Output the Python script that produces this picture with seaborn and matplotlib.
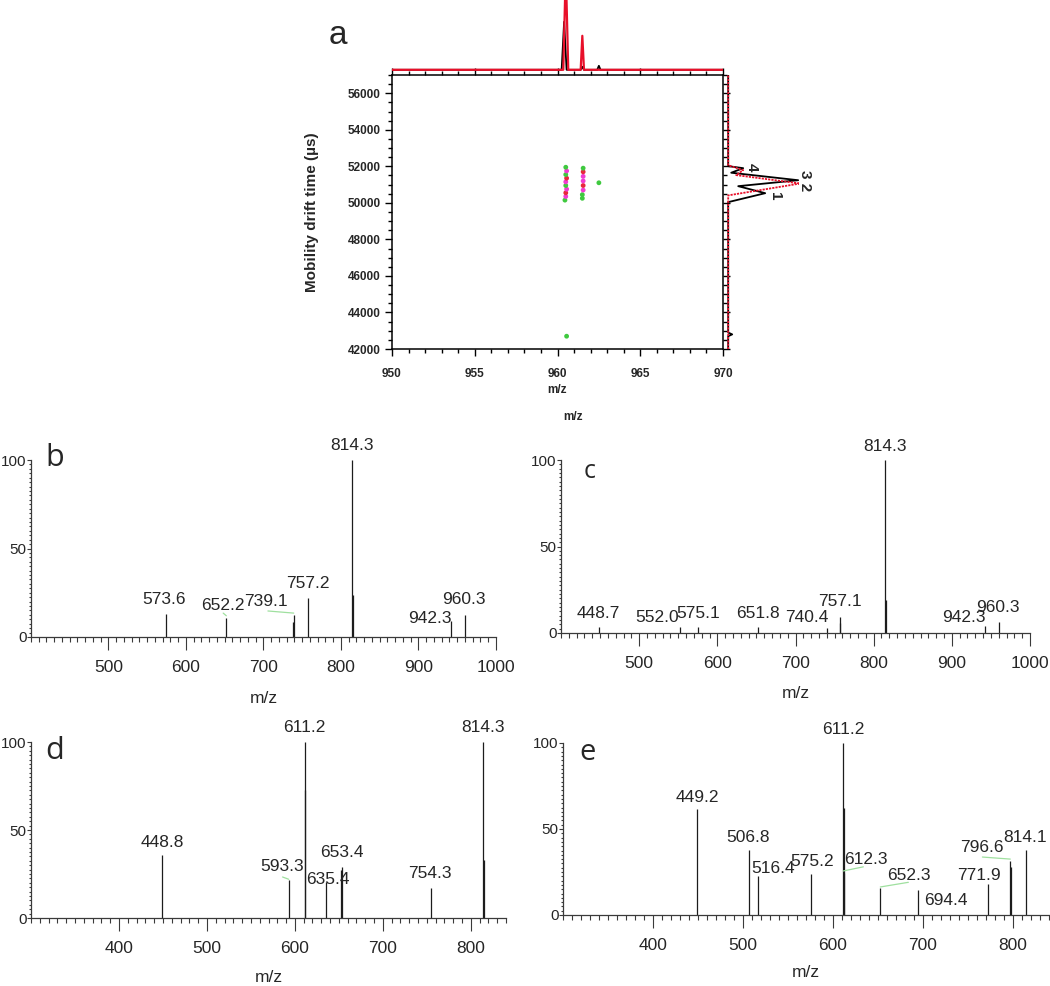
import matplotlib
matplotlib.use("Agg")
import matplotlib.pyplot as plt
from matplotlib.ticker import MultipleLocator, FixedLocator
from matplotlib import font_manager as fm
import pandas as pd
import seaborn as sns

# ---------------- data ----------------
# panel a : 2-D mobility map spots (m/z, drift time in µs, colour class)
spot_mz = [960.45, 960.5, 960.5, 960.55, 960.5, 960.5, 960.55, 960.5, 960.55, 960.5,
           961.5, 961.5, 961.55, 961.55, 961.55, 961.55, 961.55, 961.55,
           962.5, 960.55]
spot_dt = [50150, 50350, 50550, 50750, 50950, 51150, 51350, 51550, 51750, 51950,
           50250, 50450, 50700, 50950, 51200, 51450, 51700, 51900,
           51100, 42700]
spot_cls = ['g', 'm', 'r', 'm', 'g', 'm', 'r', 'g', 'm', 'g',
            'g', 'g', 'm', 'r', 'm', 'm', 'r', 'g',
            'g', 'g']

# top marginal (m/z projection)
top_mz_black = [950, 960.25, 960.4, 960.55, 961.4, 961.5, 961.6, 962.4, 962.5, 962.6, 970]
top_int_black = [0, 0, 48, 0, 0, 3, 0, 0, 4, 0, 0]
top_mz_red = [950, 960.35, 960.5, 960.65, 961.4, 961.5, 961.6, 970]
top_int_red = [0, 0, 100, 0, 0, 34, 0, 0]

# right marginal (drift-time projection)
right_dt_black = [42000, 42700, 42800, 42900, 50040, 50530, 50914, 51240, 51650, 51900, 52010, 57000]
right_int_black = [0, 0, 4, 0, 0, 37, 10, 70, 3, 15, 0, 0]
right_dt_red = [42000, 50410, 51060, 51520, 51790, 52060, 57000]
right_int_red = [0, 0, 72, 8, 15, 0, 0]
conf_labels = ['4', '3 2', '1']

# panel b
b_mz = [573.6, 652.2, 738.3, 739.1, 757.2, 814.3, 815.2, 942.3, 960.3]
b_int = [13, 10.5, 8.5, 12.4, 22.2, 100, 24, 9, 12.4]
b_labels = ['573.6', '652.2', '739.1', '757.2', '814.3', '942.3', '960.3']

# panel c
c_mz = [448.7, 552.0, 575.1, 651.8, 740.4, 756.3, 757.1, 814.3, 815.2, 942.3, 960.3]
c_int = [3.3, 3.3, 3.3, 3.7, 2.8, 6, 9.4, 100, 19, 4, 6.5]
c_labels = ['448.7', '552.0', '575.1', '651.8', '740.4', '757.1', '814.3', '942.3', '960.3']

# panel d
d_mz = [448.8, 593.3, 611.2, 612.0, 635.4, 652.6, 653.4, 754.3, 814.3, 815.1]
d_int = [35.8, 21.6, 100, 73, 20.5, 27, 29, 17, 100, 33]
d_labels = ['448.8', '593.3', '611.2', '635.4', '653.4', '754.3', '814.3']

# panel e
e_mz = [449.2, 506.8, 516.4, 575.2, 611.2, 611.8, 612.3, 652.3, 694.4, 771.9, 796.6, 797.4, 814.1]
e_int = [61.6, 37.8, 22.7, 23.8, 100, 62, 24.4, 15.7, 14.5, 18, 31.4, 28, 37.8]
e_labels = ['449.2', '506.8', '516.4', '575.2', '611.2', '612.3', '652.3', '694.4',
            '771.9', '796.6', '814.1']

# ---------------- layout (label placement) ----------------
conf_lab_x = [24, 77, 47]
conf_lab_y = [51950, 51240, 50370]

b_lab_x = [572, 647, 703, 757, 813.6, 915, 959]
b_lab_y = [21, 18, 20, 30.5, 108, 10.7, 21]
b_wide = [0, 0, 0, 0, 0, 1, 0]
b_lead = [(705.7, 14.7, 739, 13.5), (648, 13.5, 652, 12)]

c_lab_x = [448, 523, 575, 652, 714, 757, 814, 915, 959]
c_lab_y = [11, 8.7, 11, 11.5, 8.7, 18, 108, 8.7, 14.5]
c_wide = [0, 1, 0, 0, 1, 0, 0, 1, 0]
c_lead = []

d_lab_x = [449, 585, 611, 637, 653, 754, 814]
d_lab_y = [43, 29, 108, 22, 37, 25, 108.5]
d_wide = [0, 0, 0, 0, 0, 0, 0]
d_lead = [(586, 23.3, 593, 22)]

e_lab_x = [449, 506, 533, 577, 611.4, 636, 684, 725, 762, 765, 813.7]
e_lab_y = [68.6, 45, 27, 31, 108, 32.5, 23, 8.7, 23, 39.5, 45]
e_wide = [0, 0, 1, 0, 0, 0, 0, 1, 1, 0, 0]
e_lead = [(611.4, 25.6, 633.7, 28), (652.6, 16.3, 683.7, 19), (766, 33.7, 797, 32.5)]

# ---------------- style ----------------
sns.set_theme(style="ticks")
plt.rcParams['font.family'] = ['Liberation Sans', 'DejaVu Sans']
names = {f.name for f in fm.fontManager.ttflist}
NARROW = 'Liberation Sans Narrow' if 'Liberation Sans Narrow' in names else 'Liberation Sans'
WIDE = 'Liberation Sans'
LETTER = 'Open Sans' if 'Open Sans' in names else 'DejaVu Sans'

W, H = 1050, 986
fig = plt.figure(figsize=(W / 100, H / 100), dpi=100)


def fx(px):
    return px / W


def fy(py):
    return 1 - py / H


# ---------------- panel a ----------------
ax = fig.add_axes([fx(392), fy(349), fx(723 - 392), (349 - 75) / H])
df_spots = pd.DataFrame({'mz': spot_mz, 'dt': spot_dt, 'cls': spot_cls})
sns.scatterplot(data=df_spots, x='mz', y='dt', hue='cls',
                palette={'g': '#3fc93f', 'm': '#f03cd2', 'r': '#e8283c'},
                s=12, linewidth=0, legend=False, ax=ax)
ax.set_xlim(950, 970)
ax.set_ylim(42000, 57000)
ax.xaxis.set_major_locator(MultipleLocator(5))
ax.xaxis.set_minor_locator(MultipleLocator(1))
ax.yaxis.set_major_locator(MultipleLocator(2000))
ax.yaxis.set_minor_locator(MultipleLocator(500))
ax.tick_params(which='both', direction='out', top=True, right=True,
               labeltop=False, labelright=False, color='black', width=1.0)
ax.tick_params(which='major', length=5, labelsize=8.5, pad=3)
ax.tick_params(axis='x', which='major', pad=9)
ax.tick_params(which='minor', length=3)
for lab in ax.get_xticklabels() + ax.get_yticklabels():
    lab.set_fontweight('bold')
for sp in ax.spines.values():
    sp.set_linewidth(1.1)
    sp.set_color('black')
ax.set_xlabel('')
ax.set_ylabel('')
fig.text(fx(312), fy(212), 'Mobility drift time (µs)', rotation=90, ha='center',
         va='center', fontsize=11, fontweight='bold')
fig.text(fx(557), fy(390), 'm/z', ha='center', va='center', fontsize=8.5, fontweight='bold')
fig.text(fx(573), fy(417), 'm/z', ha='center', va='center', fontsize=8.5, fontweight='bold')
fig.text(fx(338), fy(35), 'a', ha='center', va='center', fontsize=24, family='Liberation Sans')

# top marginal
ax_t = fig.add_axes([fx(392), fy(71), fx(723 - 392), 71 / H])
sns.lineplot(x=top_mz_black, y=top_int_black, sort=False, estimator=None,
             color='black', lw=1.3, ax=ax_t)
sns.lineplot(x=top_mz_red, y=top_int_red, sort=False, estimator=None,
             color='#e8102a', lw=1.6, ax=ax_t)
ax_t.set_xlim(950, 970)
ax_t.set_ylim(-1.2, 69.8)
ax_t.axis('off')

# right marginal
ax_r = fig.add_axes([fx(727), fy(349), fx(72), (349 - 75) / H])
sns.lineplot(x=right_int_black, y=right_dt_black, sort=False, estimator=None,
             color='black', lw=1.3, ax=ax_r)
sns.lineplot(x=right_int_red, y=right_dt_red, sort=False, estimator=None,
             color='#e8102a', lw=1.3, ls=(0, (1.2, 0.6)), ax=ax_r)
ax_r.set_ylim(42000, 57000)
ax_r.set_xlim(-1.2, 70.8)
ax_r.axis('off')
for t, x, y in zip(conf_labels, conf_lab_x, conf_lab_y):
    ax_r.text(x, y, t, rotation=-90, ha='center', va='center', fontsize=11,
              fontweight='bold', clip_on=False)


# ---------------- spectra ----------------
def spectrum(rect, mz, inten, labels, lab_x, lab_y, wide, lead, xlim, majors,
             letter, letter_xy, letter_size, xlabel_y):
    a = fig.add_axes(rect)
    a.vlines(mz, 0, inten, color='#1c1c1c', lw=0.9)
    for t, x, y, w in zip(labels, lab_x, lab_y, wide):
        a.text(x, y, t, ha='center', va='center', clip_on=False,
               family=WIDE if w else NARROW, fontsize=12.5)
    for (x0, y0, x1, y1) in lead:
        a.plot([x0, x1], [y0, y1], color='#9fe09f', lw=0.9, clip_on=False)
    a.set_xlim(*xlim)
    a.set_ylim(0, 100)
    a.xaxis.set_major_locator(FixedLocator(majors))
    a.xaxis.set_minor_locator(MultipleLocator(10))
    a.yaxis.set_major_locator(FixedLocator([0, 50, 100]))
    a.yaxis.set_minor_locator(MultipleLocator(2.5))
    sns.despine(ax=a)
    for sp in ('left', 'bottom'):
        a.spines[sp].set_linewidth(0.9)
        a.spines[sp].set_color('#3a3a3a')
    a.tick_params(which='both', direction='out', color='#3a3a3a', width=0.8)
    a.tick_params(axis='x', which='major', length=9.5, pad=7)
    a.tick_params(axis='x', which='minor', length=3.5)
    a.tick_params(axis='y', which='major', length=3, pad=0.3)
    a.tick_params(axis='y', which='minor', length=1.8)
    for lab in a.get_xticklabels():
        lab.set_family(NARROW)
        lab.set_fontsize(12.5)
    for lab in a.get_yticklabels():
        lab.set_family(NARROW)
        lab.set_fontsize(11)
    a.text(0.5, xlabel_y, 'm/z', transform=a.transAxes, ha='center', va='center',
           family=NARROW, fontsize=12.5)
    fig.text(fx(letter_xy[0]), fy(letter_xy[1]), letter, ha='center', va='center',
             fontsize=letter_size, family=LETTER)
    return a


spectrum([fx(31), fy(637), fx(496 - 31), 177 / H], b_mz, b_int, b_labels, b_lab_x, b_lab_y,
         b_wide, b_lead, (400, 1000), [500, 600, 700, 800, 900, 1000], 'b', (55, 458), 22, -0.345)
spectrum([fx(561), fy(633), fx(1030 - 561), 173 / H], c_mz, c_int, c_labels, c_lab_x, c_lab_y,
         c_wide, c_lead, (400, 1000), [500, 600, 700, 800, 900, 1000], 'c', (590, 472), 18, -0.347)
spectrum([fx(31), fy(918), fx(506 - 31), 176 / H], d_mz, d_int, d_labels, d_lab_x, d_lab_y,
         d_wide, d_lead, (300, 840), [400, 500, 600, 700, 800], 'd', (55, 751), 22, -0.34)
spectrum([fx(563), fy(915), fx(1049 - 563), 172 / H], e_mz, e_int, e_labels, e_lab_x, e_lab_y,
         e_wide, e_lead, (300, 840), [400, 500, 600, 700, 800], 'e', (588, 753), 21, -0.337)

fig.savefig('out.png', dpi=100, facecolor='white')
